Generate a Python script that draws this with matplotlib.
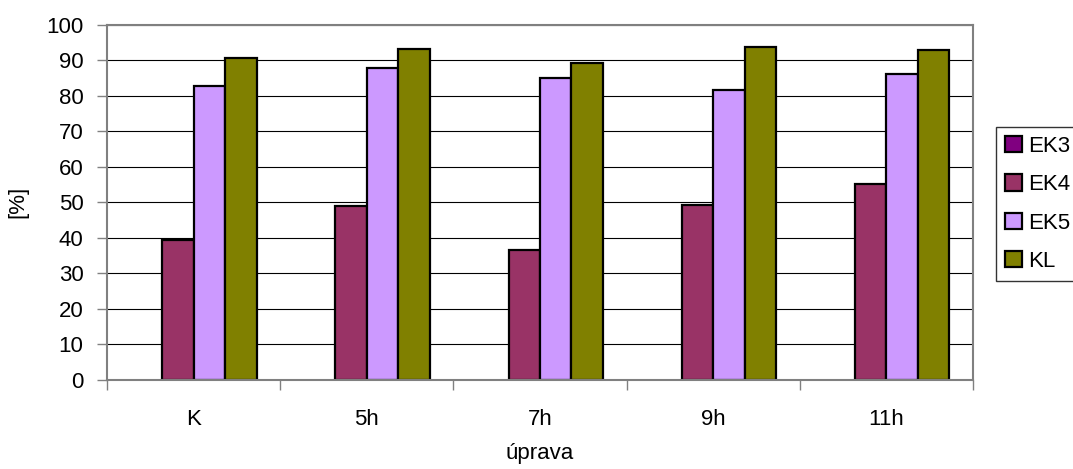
import numpy as np
import matplotlib
matplotlib.use('Agg')
import matplotlib.pyplot as plt
from matplotlib.ticker import FixedLocator

plt.rcParams['font.family'] = ['Liberation Sans', 'DejaVu Sans']

categories = ['K', '5h', '7h', '9h', '11h']
series_names = ['EK3', 'EK4', 'EK5', 'KL']
ek3 = [0, 0, 0, 0, 0]
ek4 = [39.3, 49.1, 36.6, 49.3, 55.3]
ek5 = [82.7, 87.9, 85.1, 81.5, 86.1]
kl = [90.6, 93.3, 89.1, 93.6, 92.8]
colors = ['#800080', '#993366', '#CC99FF', '#808000']

W, H = 1073, 469
fig = plt.figure(figsize=(W / 100, H / 100), dpi=100)
ax = fig.add_axes([107 / W, 1 - 380 / H, (973 - 107) / W, (380 - 24.7) / H])

n = len(categories)
x = np.arange(n) + 0.5
w = 1 / 5.5
for k, (name, vals) in enumerate(zip(series_names, [ek3, ek4, ek5, kl])):
    # zero-height bars get no outline (Excel draws nothing for them)
    lws = [1.6 if v > 0 else 0 for v in vals]
    ax.bar(x + (k - 1.5) * w, vals, width=w, color=colors[k],
           edgecolor='black', linewidth=lws, label=name, zorder=2)

ax.set_xlim(0, n)
ax.set_ylim(0, 100)
ax.set_yticks(np.arange(0, 101, 10))
ax.set_xticks(x)
ax.set_xticklabels(categories)
ax.xaxis.set_minor_locator(FixedLocator(np.arange(0, n + 1)))
ax.tick_params(axis='x', which='major', length=0, pad=21, labelsize=16)
ax.tick_params(axis='x', which='minor', length=7, width=1, color='#808080', direction='out')
ax.tick_params(axis='y', length=7, width=1, color='#808080', direction='out', pad=10, labelsize=16)

ax.set_axisbelow(True)
ax.yaxis.grid(True, color='#000000', linewidth=0.8)
for s in ax.spines.values():
    s.set_color('#808080')
    s.set_linewidth(1.5)
    s.set_zorder(3)

fig.text(540 / W, 1 - 453 / H, 'úprava', ha='center', va='center', fontsize=16)
fig.text(18 / W, 1 - 202 / H, '[%]', ha='center', va='center', rotation=90, fontsize=16)

leg = fig.legend(loc='upper left', bbox_to_anchor=(996 / W, 1 - 127 / H), fontsize=16,
                 frameon=True, fancybox=False, shadow=False, borderaxespad=0,
                 handlelength=0.75, handleheight=0.75, handletextpad=0.3,
                 labelspacing=0.78, borderpad=0.4)
leg.get_frame().set_edgecolor('black')
leg.get_frame().set_linewidth(1.0)
for h in leg.legend_handles:
    h.set_linewidth(1.6)

fig.savefig('out.png', dpi=100, facecolor='white')
